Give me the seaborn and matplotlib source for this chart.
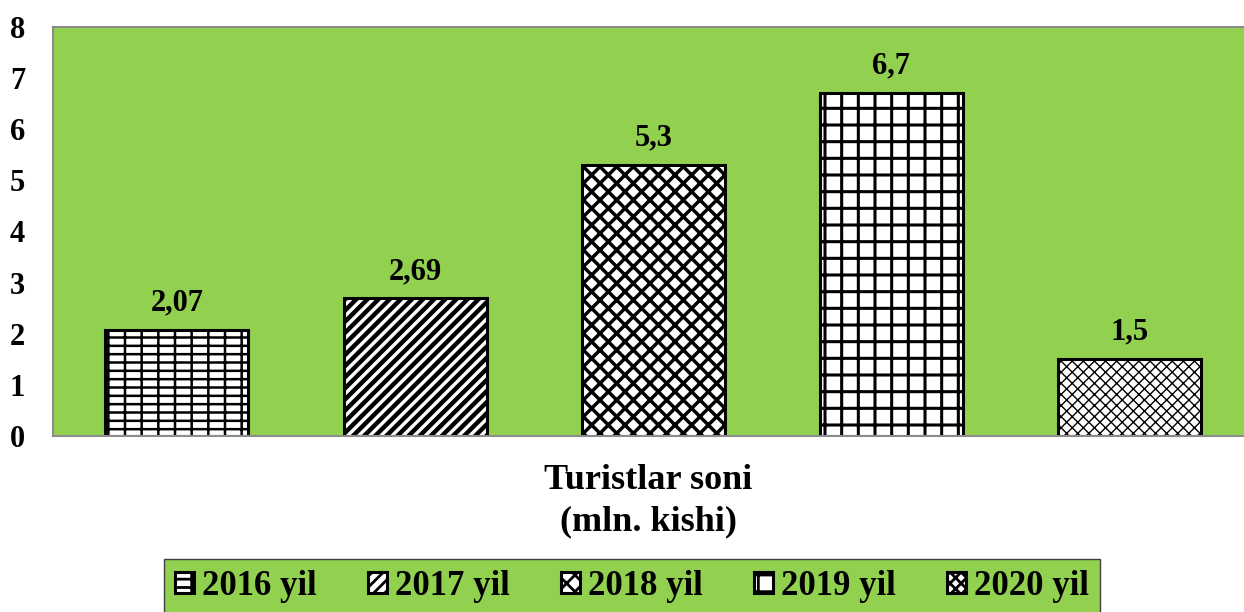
import matplotlib
matplotlib.use("Agg")
import matplotlib.pyplot as plt
import seaborn as sns
import pandas as pd

years = ["2016 yil", "2017 yil", "2018 yil", "2019 yil", "2020 yil"]
values = [2.07, 2.69, 5.3, 6.7, 1.5]
value_labels = ["2,07", "2,69", "5,3", "6,7", "1,5"]
yticks = [0, 1, 2, 3, 4, 5, 6, 7, 8]
xlabel = "Turistlar soni\n(mln. kishi)"

sns.set_theme(style="white")
plt.rcParams['font.family'] = ['Liberation Serif', 'DejaVu Serif']
plt.rcParams['font.weight'] = 'bold'
plt.rcParams['text.color'] = 'black'
plt.rcParams['ytick.color'] = 'black'
plt.rcParams['axes.labelcolor'] = 'black'
plt.rcParams['hatch.linewidth'] = 2.0

GREEN = "#92D050"
df = pd.DataFrame({"year": years, "value": values})

fig = plt.figure(figsize=(12.44, 6.12), dpi=100)
ax = fig.add_axes([0.0426, 0.2876, 0.9574, 0.6684])
ax.set_facecolor(GREEN)

sns.barplot(data=df, x="year", y="value", hue="year", palette=["white"] * 5,
            dodge=False, width=0.6, edgecolor="black", linewidth=2.2,
            saturation=1, ax=ax, legend=True)

hatches = ["--|", "///", "xx", "+", "xxx"]
hatch_lw = [1.8, 3.2, 2.5, 2.2, 1.0]


def style_hatch(p, h, lw):
    p.set_hatch(h)
    try:
        p.set_hatch_linewidth(lw)
    except Exception:
        pass


for patch, h, lw in zip(ax.patches, hatches, hatch_lw):
    style_hatch(patch, h, lw)

for cont, lab in zip(ax.containers, value_labels):
    ax.bar_label(cont, labels=[lab], padding=9, fontsize=22, fontweight='bold',
                 color='black')

ax.set_ylim(0, 8)
ax.set_xlim(-0.52, 4.48)
ax.set_yticks(yticks)
ax.set_yticklabels([str(t) for t in yticks], fontsize=22, fontweight='bold')
ax.tick_params(axis='y', length=0, pad=20, colors='black')
ax.set_xticks([])
ax.set_xlabel(xlabel, fontsize=26, fontweight='bold', labelpad=20, linespacing=1.35,
              color='black')
ax.set_ylabel("")
for s in ["left", "top", "bottom"]:
    ax.spines[s].set_color("#8c8c8c")
    ax.spines[s].set_linewidth(1.5)
ax.spines["right"].set_visible(False)

handles, labels = ax.get_legend_handles_labels()
ax.get_legend().remove()
for hd, h, lw in zip(handles, hatches, hatch_lw):
    style_hatch(hd, h, min(lw, 1.5))
leg = fig.legend(handles, labels, loc="center", bbox_to_anchor=(0.508, 0.042),
                 ncol=5, frameon=True, facecolor=GREEN, edgecolor="#404040",
                 fancybox=False, framealpha=1, handlelength=0.55, handleheight=0.55,
                 handletextpad=0.25, columnspacing=1.45, borderpad=0.3,
                 prop={'weight': 'bold', 'size': 25, 'family': 'Liberation Serif'})
for t in leg.get_texts():
    t.set_color('black')

fig.savefig("out.png", dpi=100)
